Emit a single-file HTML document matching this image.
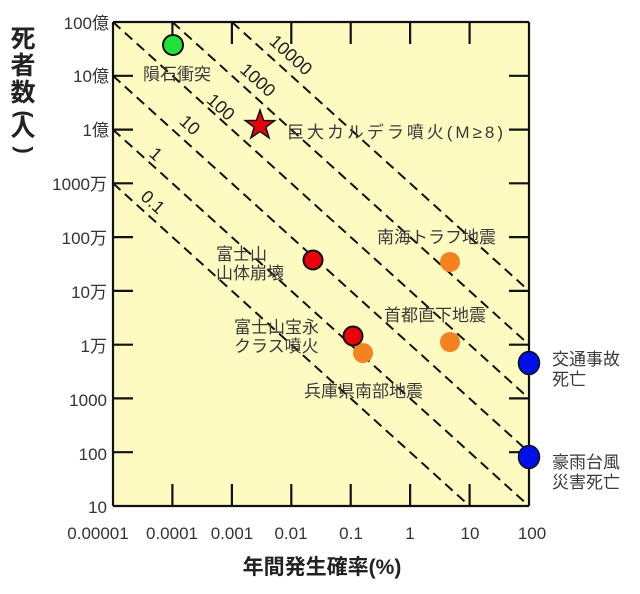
<!DOCTYPE html>
<html><head><meta charset="utf-8"><style>
html,body{margin:0;padding:0;background:#fff;}
svg text{font-family:"Liberation Sans","Noto Sans CJK JP",sans-serif;}
</style></head><body>
<svg width="640" height="589" viewBox="0 0 640 589" xmlns="http://www.w3.org/2000/svg">
<defs><clipPath id="c"><rect x="113" y="22" width="416" height="484"/></clipPath></defs>
<rect x="113" y="22" width="416" height="484" fill="#fefbc2"/>
<g clip-path="url(#c)" stroke="#111" stroke-width="2" stroke-dasharray="10,6" fill="none">
<line x1="113" y1="183.3" x2="469.6" y2="506"/>
<line x1="113" y1="129.6" x2="529" y2="506"/>
<line x1="113" y1="75.8" x2="588.4" y2="506"/>
<line x1="113" y1="22" x2="647.9" y2="506"/>
<line x1="172.4" y1="22" x2="707.3" y2="506"/>
<line x1="231.9" y1="22" x2="766.7" y2="506"/>
</g>
<g stroke="#111" stroke-width="2.2">
<line x1="113" y1="22" x2="113" y2="506"/><line x1="113" y1="506" x2="529" y2="506"/>
<line x1="529" y1="22" x2="529" y2="506"/><line x1="113" y1="22" x2="529" y2="22"/>
<line x1="113" y1="75.8" x2="133" y2="75.8"/><line x1="113" y1="129.6" x2="133" y2="129.6"/>
<line x1="113" y1="183.3" x2="133" y2="183.3"/><line x1="113" y1="237.1" x2="133" y2="237.1"/>
<line x1="113" y1="290.9" x2="133" y2="290.9"/><line x1="113" y1="344.7" x2="133" y2="344.7"/>
<line x1="113" y1="398.4" x2="133" y2="398.4"/><line x1="113" y1="452.2" x2="133" y2="452.2"/>
<line x1="509" y1="75.8" x2="529" y2="75.8"/><line x1="509" y1="129.6" x2="529" y2="129.6"/>
<line x1="509" y1="183.3" x2="529" y2="183.3"/><line x1="509" y1="237.1" x2="529" y2="237.1"/>
<line x1="509" y1="290.9" x2="529" y2="290.9"/><line x1="509" y1="344.7" x2="529" y2="344.7"/>
<line x1="509" y1="398.4" x2="529" y2="398.4"/><line x1="509" y1="452.2" x2="529" y2="452.2"/>
<line x1="172.4" y1="506" x2="172.4" y2="484"/><line x1="231.9" y1="506" x2="231.9" y2="484"/>
<line x1="291.3" y1="506" x2="291.3" y2="484"/><line x1="350.7" y1="506" x2="350.7" y2="484"/>
<line x1="410.1" y1="506" x2="410.1" y2="484"/><line x1="469.6" y1="506" x2="469.6" y2="484"/>
<line x1="172.4" y1="22" x2="172.4" y2="44"/><line x1="231.9" y1="22" x2="231.9" y2="44"/>
<line x1="291.3" y1="22" x2="291.3" y2="44"/><line x1="350.7" y1="22" x2="350.7" y2="44"/>
<line x1="410.1" y1="22" x2="410.1" y2="44"/><line x1="469.6" y1="22" x2="469.6" y2="44"/>
</g>
<g fill="#222" font-size="18">
<text transform="translate(290,56) rotate(42)" text-anchor="middle" dominant-baseline="middle">10000</text>
<text transform="translate(257,81) rotate(42)" text-anchor="middle" dominant-baseline="middle">1000</text>
<text transform="translate(220,108) rotate(42)" text-anchor="middle" dominant-baseline="middle">100</text>
<text transform="translate(189,126) rotate(42)" text-anchor="middle" dominant-baseline="middle">10</text>
<text transform="translate(155,155) rotate(42)" text-anchor="middle" dominant-baseline="middle">1</text>
<text transform="translate(152,203) rotate(42)" text-anchor="middle" dominant-baseline="middle">0.1</text>
</g>
<circle cx="450" cy="262" r="10" fill="#f58220"/>
<circle cx="450" cy="342" r="10" fill="#f58220"/>
<circle cx="363" cy="353" r="10" fill="#f58220"/>
<circle cx="173" cy="45" r="10" fill="#22e03a" stroke="#111" stroke-width="2"/>
<circle cx="313" cy="260" r="9.5" fill="#e8000b" stroke="#111" stroke-width="2"/>
<circle cx="353" cy="336" r="9.5" fill="#e8000b" stroke="#111" stroke-width="2"/>
<ellipse cx="529" cy="363" rx="10.5" ry="11.5" fill="#0010e8" stroke="#111" stroke-width="1.5"/>
<ellipse cx="529" cy="457" rx="10.5" ry="11.5" fill="#0010e8" stroke="#111" stroke-width="1.5"/>
<polygon fill="#e8000b" stroke="#111" stroke-width="1.5" points="260,110 263.6,120.5 274.7,120.6 265.8,127.3 269.1,137.9 260,131.5 250.9,137.9 254.2,127.3 245.3,120.6 256.4,120.5"/>
<g fill="#3a3a3a" font-size="17">
<text x="143" y="80">隕石衝突</text>
<text x="287" y="138" textLength="216">巨大カルデラ噴火(M≥8)</text>
<text x="216" y="260">富士山</text>
<text x="216" y="279">山体崩壊</text>
<text x="377" y="243">南海トラフ地震</text>
<text x="384" y="321">首都直下地震</text>
<text x="234" y="333">富士山宝永</text>
<text x="234" y="352">クラス噴火</text>
<text x="304" y="397">兵庫県南部地震</text>
<text x="552" y="365">交通事故</text>
<text x="552" y="385">死亡</text>
<text x="552" y="468">豪雨台風</text>
<text x="552" y="488">災害死亡</text>
</g>
<g fill="#333" font-size="17" text-anchor="end">
<text x="109" y="29">100億</text><text x="109" y="82">10億</text><text x="109" y="136">1億</text>
<text x="107" y="190">1000万</text><text x="107" y="244">100万</text><text x="107" y="298">10万</text>
<text x="107" y="352">1万</text><text x="107" y="406">1000</text><text x="107" y="460">100</text>
<text x="107" y="513">10</text>
</g>
<g fill="#333" font-size="17" text-anchor="middle">
<text x="98" y="539">0.00001</text><text x="172" y="539">0.0001</text><text x="232" y="539">0.001</text>
<text x="291" y="539">0.01</text><text x="351" y="539">0.1</text><text x="410" y="539">1</text>
<text x="470" y="539">10</text><text x="532" y="539">100</text>
</g>
<text x="322" y="574" text-anchor="middle" font-size="21" font-weight="bold" fill="#222">年間発生確率(%)</text>
<g fill="#222" font-size="25" font-weight="bold" text-anchor="middle">
<text x="23" y="47">死</text><text x="23" y="74">者</text><text x="23" y="101">数</text>
<text transform="translate(23,114) rotate(90)" text-anchor="middle" dominant-baseline="middle" font-size="22">(</text>
<text x="23" y="136">人</text>
<text transform="translate(23,150) rotate(90)" text-anchor="middle" dominant-baseline="middle" font-size="22">)</text>
</g>
</svg>
</body></html>
